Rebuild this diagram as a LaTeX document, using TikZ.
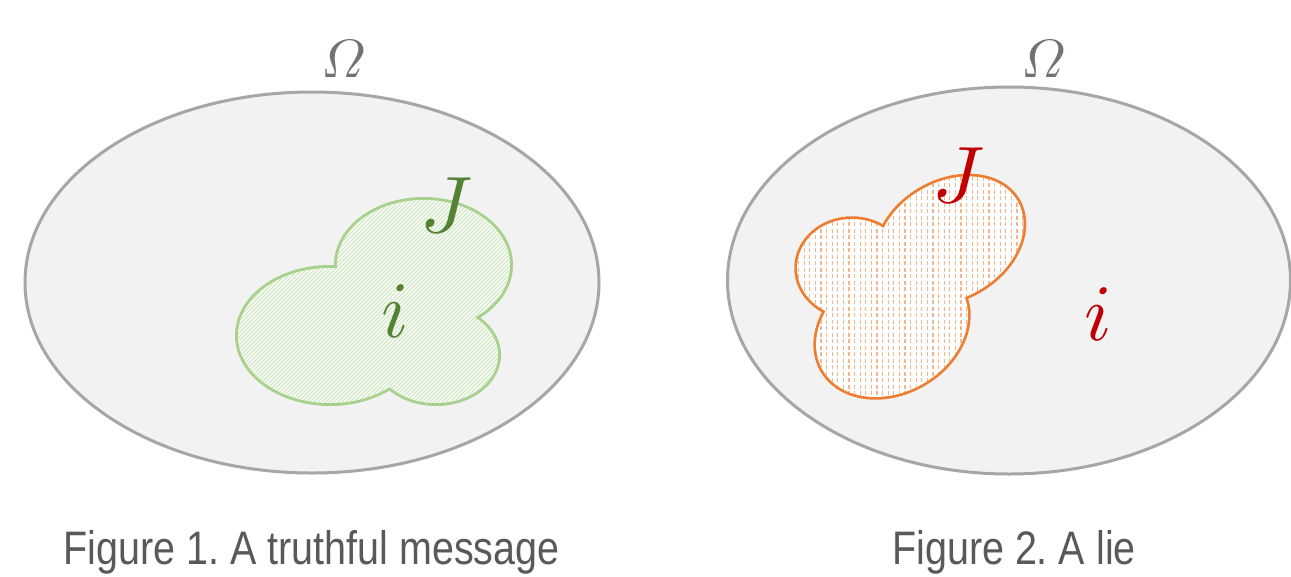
\documentclass[tikz,border=0pt]{standalone}
\usepackage{fontspec}
\usepackage{unicode-math}
\setmathfont{Latin Modern Math}
\setsansfont{Liberation Sans}
\frenchspacing
\definecolor{setfill}{HTML}{F2F2F2}
\definecolor{setline}{HTML}{A6A6A6}
\definecolor{omegacol}{HTML}{757171}
\definecolor{greenline}{HTML}{A9D18E}
\definecolor{greenhatch}{HTML}{D2E7C4}
\definecolor{greentext}{HTML}{548235}
\definecolor{orangeline}{HTML}{ED7D31}
\definecolor{orangehatch}{HTML}{F4B68C}
\definecolor{redtext}{HTML}{C00000}
\definecolor{captioncol}{HTML}{595959}
\tikzset{
  setshape/.style={fill=setfill, draw=setline, line width=3pt},
  omegalbl/.style={inner sep=0pt, text=omegacol, font=\fontsize{54}{54}\selectfont},
  biglbl/.style={inner sep=0pt, font=\fontsize{80}{80}\selectfont},
  captionlbl/.style={inner sep=0pt, anchor=base, text=captioncol, xscale=0.84,
    font=\sffamily\fontsize{47}{47}\selectfont},
  greenblob/.style={insert path={
    (423.5,265) ellipse [x radius=86.5pt, y radius=65pt]
    (330,335.5) ellipse [x radius=92pt, y radius=67.5pt]
    (436,355) ellipse [x radius=62pt, y radius=48pt]}},
  orangeblob/.style={insert path={
    (950,240) ellipse [x radius=78pt, y radius=58pt, rotate=30]
    (852,268) ellipse [x radius=55pt, y radius=49pt]
    (892,330) ellipse [x radius=80pt, y radius=62pt, rotate=30]}},
}
\begin{document}
\begin{tikzpicture}[x=1pt,y=-1pt]
\useasboundingbox (0,0) rectangle (1291,576);
\fill[white] (0,0) rectangle (1291,576);
% universes
\path[setshape] (312,282.5) ellipse [x radius=287pt, y radius=190.5pt];
\path[setshape] (1009,280.5) ellipse [x radius=281.5pt, y radius=193.5pt];
\node[omegalbl] (om1) at (343,58.5) {$\symit{\Omega}$};
\node[omegalbl] (om2) at (1043,58.5) {$\symit{\Omega}$};
% green blob
\draw[greenline, line width=6pt, greenblob];
\fill[white, greenblob];
\begin{scope}
  \clip[greenblob];
  \foreach \k in {0,...,130} \draw[greenhatch, line width=1.1pt] (230+\k*4,190) -- ++(-230,230);
\end{scope}
% orange blob
\draw[orangeline, line width=5.5pt, orangeblob];
\fill[white, orangeblob];
\begin{scope}
  \clip[orangeblob];
  \foreach \k in {0,...,43} \draw[orangehatch, line width=1.1pt, dash pattern=on 4pt off 2.5pt] (793+\k*5.6,170) -- ++(0,235);
\end{scope}
% labels
\node[biglbl, text=greentext] (j1) at (447,206) {$J$};
\node[biglbl, text=greentext] (i1) at (395,311) {$i$};
\node[biglbl, text=redtext] (j2) at (959,176.5) {$J$};
\node[biglbl, text=redtext] (i2) at (1098,314.5) {$i$};
% captions
\node[captionlbl] (cap1) at (311.5,564) {Figure 1. A truthful message};
\node[captionlbl] (cap2) at (1014,564) {Figure 2. A lie};
\end{tikzpicture}
\end{document}
